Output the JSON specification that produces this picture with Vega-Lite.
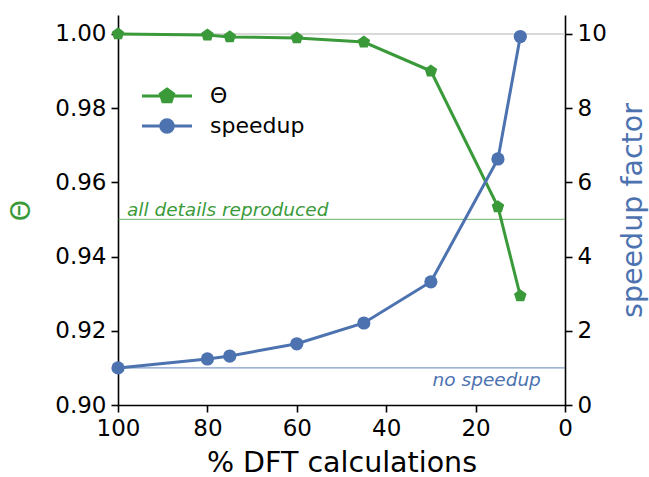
{
  "$schema": "https://vega.github.io/schema/vega-lite/v6.json",
  "autosize": {"type": "none"},
  "width": 447,
  "height": 390,
  "padding": {"left": 118, "top": 15, "right": 84, "bottom": 72},
  "config": {
    "font": "DejaVu Sans",
    "view": {"stroke": null},
    "axis": {
      "grid": false,
      "domainColor": "black",
      "domainWidth": 1.6,
      "tickColor": "black",
      "tickWidth": 1.6,
      "tickSize": 7,
      "labelColor": "black",
      "labelFontSize": 23,
      "labelFont": "DejaVu Sans",
      "titleFont": "DejaVu Sans",
      "titleFontWeight": "normal",
      "labelPadding": 5,
      "labelFlush": false,
      "labelOverlap": false
    }
  },
  "data": {
    "values": [
      {"pct": 100, "theta": 1.0, "speedup": 1.0},
      {"pct": 80, "theta": 0.9997, "speedup": 1.24},
      {"pct": 75, "theta": 0.9992, "speedup": 1.32},
      {"pct": 60, "theta": 0.9989, "speedup": 1.65},
      {"pct": 45, "theta": 0.9978, "speedup": 2.21},
      {"pct": 30, "theta": 0.990, "speedup": 3.32},
      {"pct": 15, "theta": 0.9534, "speedup": 6.63},
      {"pct": 10, "theta": 0.9294, "speedup": 9.93}
    ]
  },
  "encoding": {
    "x": {
      "field": "pct",
      "type": "quantitative",
      "scale": {"domain": [100, 0], "nice": false},
      "axis": {"values": [100, 80, 60, 40, 20, 0], "title": "% DFT calculations", "titleFontSize": 28.5, "titleColor": "black", "titlePadding": 8}
    }
  },
  "layer": [
    {
      "encoding": {
        "y": {
          "field": "theta",
          "type": "quantitative",
          "scale": {"domain": [0.9, 1.0051], "nice": false, "zero": false},
          "axis": {"orient": "left", "values": [0.9, 0.92, 0.94, 0.96, 0.98, 1.0], "format": ".2f", "title": "Θ", "titleColor": "#3a9a3a", "titleFontSize": 27, "titlePadding": 19}
        }
      },
      "layer": [
        {"data": {"values": [{"ref": 1.0}]}, "mark": {"type": "rule", "color": "#cccccc", "strokeWidth": 1.5}, "encoding": {"y": {"field": "ref", "type": "quantitative"}, "x": {"value": 0}, "x2": {"value": 447}}},
        {"data": {"values": [{"ref": 0.95}]}, "mark": {"type": "rule", "color": "#3a9a3a", "opacity": 0.6, "strokeWidth": 1.3}, "encoding": {"y": {"field": "ref", "type": "quantitative"}, "x": {"value": 0}, "x2": {"value": 447}}},
        {"data": {"values": [{"ref": 0.95, "px": 98, "label": "all details reproduced"}]}, "mark": {"type": "text", "align": "left", "baseline": "alphabetic", "dy": -3, "fontStyle": "italic", "fontSize": 18.5, "color": "#3a9a3a"}, "encoding": {"x": {"field": "px", "type": "quantitative"}, "y": {"field": "ref", "type": "quantitative"}, "text": {"field": "label"}}},
        {"mark": {"type": "line", "strokeWidth": 3}, "encoding": {"color": {"datum": "Θ", "type": "nominal", "scale": {"domain": ["Θ", "speedup"], "range": ["#3a9a3a", "#4c72b0"]}, "legend": {
          "orient": "none", "legendX": 38, "legendY": 70, "title": null, "padding": 0,
          "labelFontSize": 22, "labelColor": "black", "symbolSize": 4, "symbolStrokeWidth": 3,
          "labelOffset": 32, "rowPadding": 5,
          "encode": {"symbols": {"update": {
            "shape": {"signal": "datum.value === 'Θ' ? 'M-25,0H25M0,-7L6.66,-2.16L4.11,5.66L-4.11,5.66L-6.66,-2.16Z' : 'M-25,0H25M-6.3,0A6.3,6.3 0 1,0 6.3,0A6.3,6.3 0 1,0 -6.3,0Z'"},
            "fill": {"signal": "datum.value === 'Θ' ? '#3a9a3a' : '#4c72b0'"},
            "stroke": {"signal": "datum.value === 'Θ' ? '#3a9a3a' : '#4c72b0'"},
            "strokeWidth": {"value": 3},
            "opacity": {"value": 1}
          }}}
        }}}},
        {"mark": {"type": "point", "filled": true, "opacity": 1, "size": 175, "shape": "M0,-1L0.951,-0.309L0.588,0.809L-0.588,0.809L-0.951,-0.309Z"}, "encoding": {"color": {"datum": "Θ", "type": "nominal"}}}
      ]
    },
    {
      "encoding": {
        "y": {
          "field": "speedup",
          "type": "quantitative",
          "scale": {"domain": [0, 10.51], "nice": false},
          "axis": {"orient": "right", "values": [0, 2, 4, 6, 8, 10], "title": "speedup factor", "titleColor": "#4c72b0", "titleFontSize": 28.5, "titleAngle": 270, "titlePadding": 41}
        }
      },
      "layer": [
        {"data": {"values": [{"ref": 1}]}, "mark": {"type": "rule", "color": "#4c72b0", "opacity": 0.7, "strokeWidth": 1.3}, "encoding": {"y": {"field": "ref", "type": "quantitative"}, "x": {"value": 0}, "x2": {"value": 447}}},
        {"data": {"values": [{"ref": 1, "px": 5.4, "label": "no speedup"}]}, "mark": {"type": "text", "align": "right", "baseline": "top", "dy": 3, "fontStyle": "italic", "fontSize": 18.5, "color": "#4c72b0"}, "encoding": {"x": {"field": "px", "type": "quantitative"}, "y": {"field": "ref", "type": "quantitative"}, "text": {"field": "label"}}},
        {"mark": {"type": "line", "strokeWidth": 3}, "encoding": {"color": {"datum": "speedup", "type": "nominal"}}},
        {"mark": {"type": "point", "filled": true, "opacity": 1, "size": 175, "shape": "circle"}, "encoding": {"color": {"datum": "speedup", "type": "nominal"}}}
      ]
    }
  ],
  "resolve": {"scale": {"y": "independent"}}
}
